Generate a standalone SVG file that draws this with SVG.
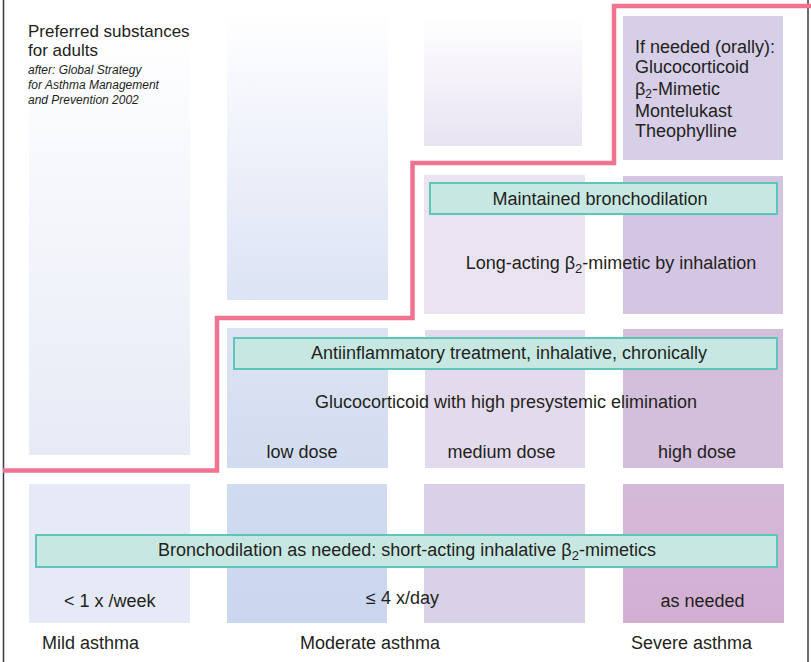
<svg xmlns="http://www.w3.org/2000/svg" width="811" height="662" viewBox="0 0 811 662">
<defs>
<linearGradient id="g1" x1="0" y1="0" x2="0" y2="1"><stop offset="0" stop-color="#FFFFFF"/><stop offset="1" stop-color="#E7EBF6"/></linearGradient>
<linearGradient id="g2" x1="0" y1="0" x2="0" y2="1"><stop offset="0" stop-color="#FFFFFF"/><stop offset="1" stop-color="#DCE3F4"/></linearGradient>
<linearGradient id="g3" x1="0" y1="0" x2="0" y2="1"><stop offset="0" stop-color="#FFFFFF"/><stop offset="1" stop-color="#E9E3F2"/></linearGradient>
<linearGradient id="gm2" x1="0" y1="0" x2="0" y2="1"><stop offset="0" stop-color="#DCE3F3"/><stop offset="1" stop-color="#D2DCF0"/></linearGradient>
<linearGradient id="gb2" x1="0" y1="0" x2="0" y2="1"><stop offset="0" stop-color="#D0DBF0"/><stop offset="1" stop-color="#C9D6EE"/></linearGradient>
<linearGradient id="gb4" x1="0" y1="0" x2="0" y2="1"><stop offset="0" stop-color="#D5B9D9"/><stop offset="1" stop-color="#D2AFD3"/></linearGradient>
</defs>
<style>
text{font-family:"Liberation Sans",Arial,sans-serif;font-size:18px;fill:#231F20}
.c{text-anchor:middle}
.t{font-size:17px}
.it{font-style:italic;font-size:12px}
.bar{fill:#C7E8E2;stroke:#5EC6B6;stroke-width:2}
.line{fill:none;stroke:#F07492;stroke-width:4.5}
.border{stroke:#3A3A3A;stroke-width:1.5}
</style>
<rect width="811" height="662" fill="#FFFFFF"/>
<g id="frame">
<line class="border" x1="3.5" y1="0" x2="3.5" y2="662"/>
<line class="border" x1="808" y1="0" x2="808" y2="662"/>
</g>
<g id="column-mild">
<rect x="29" y="20" width="161" height="435" fill="url(#g1)"/>
<rect x="29" y="484" width="161" height="139" fill="#E5EAF6"/>
</g>
<g id="column-moderate-low">
<rect x="227" y="10" width="161" height="290" fill="url(#g2)"/>
<rect x="227" y="328" width="161" height="140" fill="url(#gm2)"/>
<rect x="227" y="484" width="160" height="139" fill="url(#gb2)"/>
</g>
<g id="column-moderate-medium">
<rect x="424" y="16" width="158" height="130" fill="url(#g3)"/>
<rect x="424" y="175" width="161" height="139" fill="#EAE4F2"/>
<rect x="425" y="330" width="160" height="138" fill="#E3DBED"/>
<rect x="424" y="484" width="161" height="139" fill="#D9D1E8"/>
</g>
<g id="column-severe">
<rect x="623" y="16" width="160" height="144" fill="#D6CFE7"/>
<rect x="623" y="176" width="160" height="138" fill="#D4C6E2"/>
<rect x="623" y="329" width="160" height="139" fill="#D3BEDC"/>
<rect x="623" y="484" width="161" height="139" fill="url(#gb4)"/>
</g>
<g id="threshold-line">
<path class="line" d="M3 470.5 H217 V318 H412.5 V163 H614 V6 H811"/>
</g>
<g id="title">
<text class="t" x="28" y="37">Preferred substances</text>
<text class="t" x="28" y="56">for adults</text>
<text class="it" x="28" y="74">after: Global Strategy</text>
<text class="it" x="28" y="89">for Asthma Management</text>
<text class="it" x="28" y="104">and Prevention 2002</text>
</g>
<g id="oral-if-needed">
<text x="635" y="53">If needed (orally):</text>
<text x="635" y="73">Glucocorticoid</text>
<text x="635" y="95">β<tspan font-size="12" dy="3">2</tspan><tspan dy="-3">-Mimetic</tspan></text>
<text x="635" y="117">Montelukast</text>
<text x="635" y="137">Theophylline</text>
</g>
<g id="maintained-bronchodilation">
<rect class="bar" x="430" y="183" width="347" height="31"/>
<text class="c" x="600" y="205">Maintained bronchodilation</text>
<text class="c" x="611" y="269">Long-acting β<tspan font-size="13" dy="4">2</tspan><tspan dy="-4">-mimetic by inhalation</tspan></text>
</g>
<g id="antiinflammatory">
<rect class="bar" x="234" y="338" width="543" height="31"/>
<text class="c" x="509" y="359">Antiinflammatory treatment, inhalative, chronically</text>
<text class="c" x="506" y="408">Glucocorticoid with high presystemic elimination</text>
<text class="c" x="302" y="458">low dose</text>
<text class="c" x="501.5" y="458">medium dose</text>
<text class="c" x="697" y="458">high dose</text>
</g>
<g id="bronchodilation-as-needed">
<rect class="bar" x="36" y="535" width="741" height="32"/>
<text class="c" x="407" y="556">Bronchodilation as needed: short-acting inhalative β<tspan font-size="13" dy="4">2</tspan><tspan dy="-4">-mimetics</tspan></text>
<text x="64" y="607">&lt; 1 x /week</text>
<text x="366" y="604">≤ 4 x/day</text>
<text class="c" x="702.5" y="607">as needed</text>
</g>
<g id="severity-labels">
<text x="42" y="649">Mild asthma</text>
<text x="300" y="649">Moderate asthma</text>
<text x="631" y="649">Severe asthma</text>
</g>
</svg>
